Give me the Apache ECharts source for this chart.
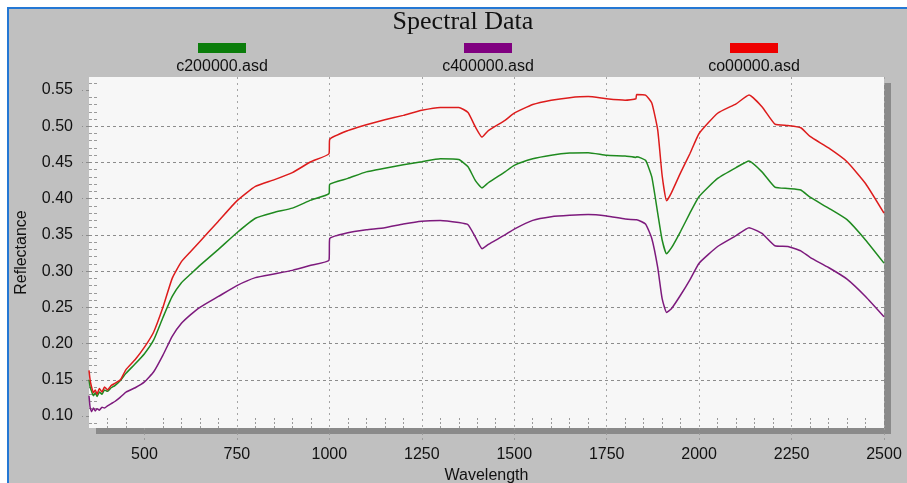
<!DOCTYPE html>
<html>
<head>
<meta charset="utf-8">
<script src="https://cdn.jsdelivr.net/npm/echarts@6/dist/echarts.min.js"></script>
<style>
  html, body { margin: 0; padding: 0; background: #fff; }
  #chart { width: 907px; height: 483px; }
</style>
</head>
<body>
<div id="chart"></div>
<script>
// wavelength (nm) shared by all three spectra
const wavelengths = [350, 353, 357, 362, 367, 372, 378, 385, 392, 400, 410, 420, 435,
  450, 475, 500, 525, 550, 575, 600, 625, 650,
  700, 750, 800, 850, 900, 950,
  999, 1001,
  1050, 1100, 1150, 1200, 1250, 1300, 1350,
  1375, 1395, 1413, 1430, 1475, 1500,
  1550, 1600, 1650, 1700, 1750, 1800,
  1829, 1831, 1855, 1872, 1888, 1900, 1912, 1925, 1950, 1975, 2000,
  2050, 2100, 2135, 2170, 2205, 2240, 2275, 2300, 2350, 2400, 2450, 2500];

const c200000 = [0.150, 0.140, 0.134, 0.128, 0.132, 0.127, 0.133, 0.130, 0.136, 0.134, 0.139, 0.142, 0.149,
  0.159, 0.172, 0.186, 0.205, 0.236, 0.265, 0.284, 0.296, 0.308,
  0.330, 0.353, 0.373, 0.381, 0.387, 0.398,
  0.407, 0.420,
  0.428, 0.437, 0.442, 0.447, 0.451, 0.455, 0.454,
  0.444, 0.425, 0.415, 0.422, 0.437, 0.446,
  0.455, 0.460, 0.463, 0.4635, 0.460, 0.459,
  0.457, 0.458, 0.453, 0.430, 0.380, 0.343, 0.324, 0.332, 0.355, 0.380, 0.403,
  0.428, 0.443, 0.452, 0.437, 0.416, 0.414, 0.412, 0.402, 0.387, 0.371, 0.343, 0.311];

const c400000 = [0.128, 0.112, 0.106, 0.111, 0.107, 0.110, 0.108, 0.112, 0.111, 0.114, 0.117, 0.120, 0.126,
  0.133, 0.139, 0.147, 0.161, 0.184, 0.210, 0.228, 0.240, 0.250,
  0.265, 0.280, 0.291, 0.296, 0.301, 0.308,
  0.315, 0.345,
  0.353, 0.357, 0.360, 0.365, 0.369, 0.370, 0.367,
  0.364, 0.347, 0.331, 0.337, 0.350, 0.358,
  0.370, 0.375, 0.377, 0.378, 0.376, 0.372,
  0.371, 0.371, 0.365, 0.345, 0.305, 0.262, 0.243, 0.248, 0.267, 0.288, 0.311,
  0.334, 0.349, 0.360, 0.352, 0.335, 0.334, 0.328, 0.319, 0.305, 0.289, 0.265, 0.237];

const co00000 = [0.163, 0.150, 0.140, 0.132, 0.136, 0.130, 0.138, 0.133, 0.140, 0.136, 0.142, 0.145, 0.150,
  0.164, 0.178, 0.195, 0.216, 0.250, 0.290, 0.313, 0.327, 0.341,
  0.369, 0.397, 0.417, 0.426, 0.436, 0.451,
  0.462, 0.482,
  0.494, 0.502, 0.509, 0.515, 0.522, 0.526, 0.526,
  0.519, 0.499, 0.485, 0.494, 0.508, 0.518,
  0.530, 0.536, 0.5395, 0.541, 0.538, 0.536,
  0.538, 0.544, 0.543, 0.532, 0.495, 0.432, 0.397, 0.408, 0.436, 0.462, 0.490,
  0.518, 0.531, 0.543, 0.527, 0.503, 0.501, 0.498, 0.486, 0.470, 0.451, 0.421, 0.380];

const seriesNames = ['c200000.asd', 'c400000.asd', 'co00000.asd'];
const xTicks = [500, 750, 1000, 1250, 1500, 1750, 2000, 2250, 2500];
const yTicks = [0.10, 0.15, 0.20, 0.25, 0.30, 0.35, 0.40, 0.45, 0.50, 0.55];

const legendColors = ['#0b7d0b', '#800080', '#ee0000'];
const lineColors = ['#1f8a1f', '#7d1a7d', '#dd1c1c'];
const font = '"Liberation Sans", Arial, sans-serif';

const pairs = vals => wavelengths.map((w, i) => [w, vals[i]]);
const allValues = [c200000, c400000, co00000];

const chart = echarts.init(document.getElementById('chart'));

const rich = {
  t: { width: 120, align: 'center', lineHeight: 24, fontSize: 16, fontFamily: font, color: '#111' }
};
legendColors.forEach((c, i) => {
  rich['b' + i] = { backgroundColor: c, width: 48, height: 10, lineHeight: 14, align: 'center' };
});

chart.setOption({
  backgroundColor: '#c0c0c0',
  animation: false,
  title: {
    text: 'Spectral Data',
    left: 463,
    top: 9,
    padding: 0,
    textAlign: 'center',
    textStyle: { fontFamily: '"Liberation Serif", "Times New Roman", serif', fontSize: 26, fontWeight: 'normal', color: '#111' }
  },
  legend: {
    data: seriesNames,
    left: 156,
    top: 42,
    padding: 0,
    itemWidth: 0,
    itemHeight: 0,
    itemGap: 140,
    formatter: name => `{b${seriesNames.indexOf(name)}|}\n{t|${name}}`,
    textStyle: { rich: rich }
  },
  graphic: [
    { type: 'rect', shape: { x: 0, y: 0, width: 907, height: 7 }, style: { fill: '#fff' }, silent: true },
    { type: 'rect', shape: { x: 0, y: 0, width: 7, height: 483 }, style: { fill: '#fff' }, silent: true },
    { type: 'rect', shape: { x: 7, y: 7, width: 900, height: 2 }, style: { fill: '#2478d4' }, silent: true },
    { type: 'rect', shape: { x: 7, y: 7, width: 2, height: 476 }, style: { fill: '#2478d4' }, silent: true }
  ],
  grid: {
    left: 89, right: 23, top: 77, bottom: 55,
    outerBoundsMode: 'none',
    show: true,
    borderWidth: 0,
    backgroundColor: '#f7f7f7',
    shadowColor: '#8a8a8a',
    shadowBlur: 0,
    shadowOffsetX: 7,
    shadowOffsetY: 6
  },
  xAxis: {
    type: 'value',
    min: 350,
    max: 2500,
    minInterval: 250,
    maxInterval: 250,
    name: 'Wavelength',
    nameLocation: 'middle',
    nameGap: 38,
    nameTextStyle: { fontFamily: font, fontSize: 16, color: '#111' },
    axisLine: { show: false },
    axisTick: { show: true, length: 12, customValues: xTicks, lineStyle: { color: '#9a9a9a', type: [2, 3] } },
    minorTick: { show: true, splitNumber: 5, length: -10, lineStyle: { color: '#9a9a9a', type: [2, 2] } },
    axisLabel: { customValues: xTicks, margin: 19, fontFamily: font, fontSize: 16, color: '#111', formatter: v => String(v) },
    splitLine: { show: true, showMinLine: false, lineStyle: { color: '#a5a5a5', type: [2, 4] } }
  },
  yAxis: {
    type: 'value',
    min: 0.0834,
    max: 0.568,
    minInterval: 0.05,
    maxInterval: 0.05,
    name: 'Reflectance',
    nameLocation: 'middle',
    nameGap: 59,
    nameTextStyle: { fontFamily: font, fontSize: 16, color: '#111' },
    axisLine: { show: false },
    axisTick: { show: true, length: 7, customValues: yTicks, lineStyle: { color: '#8c8c8c', type: [3, 3] } },
    minorTick: { show: true, splitNumber: 5, length: -8, lineStyle: { color: '#9a9a9a', type: [3, 2] } },
    axisLabel: { customValues: yTicks, margin: 16, fontFamily: font, fontSize: 16, color: '#111', formatter: v => v.toFixed(2) },
    splitLine: { show: true, showMinLine: false, showMaxLine: false, lineStyle: { color: '#8c8c8c', type: [3, 3] } }
  },
  series: seriesNames.map((name, i) => ({
    name: name,
    type: 'line',
    data: pairs(allValues[i]),
    showSymbol: false,
    symbol: 'none',
    smooth: 0.15,
    color: legendColors[i],
    lineStyle: { color: lineColors[i], width: 1.5 },
    z: 3 + i
  }))
});
</script>
</body>
</html>
